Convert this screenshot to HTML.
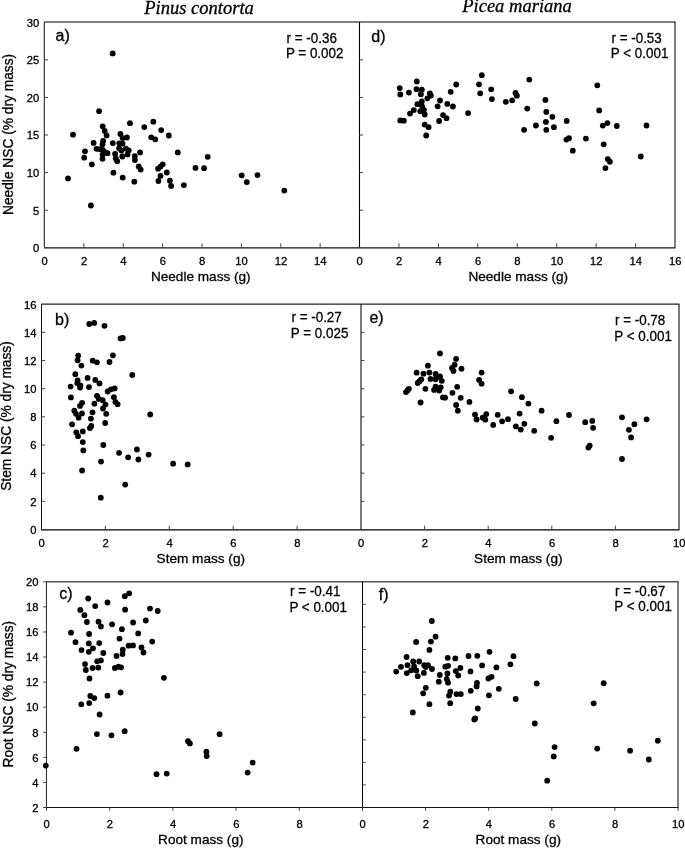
<!DOCTYPE html>
<html><head><meta charset="utf-8"><style>
html,body{margin:0;padding:0;background:#fff;}
svg{display:block;will-change:transform;font-family:"Liberation Sans",sans-serif;fill:#000;}
text{stroke:#000;stroke-width:0.3px;}
</style></head><body>
<svg width="685" height="848" viewBox="0 0 685 848">
<rect width="685" height="848" fill="#fff"/>
<text x="0" y="0" font-family="Liberation Serif" font-style="italic" font-size="18" transform="translate(144.2,13.5) scale(1.03,1)">Pinus contorta</text>
<text x="0" y="0" font-family="Liberation Serif" font-style="italic" font-size="18" transform="translate(462.2,12.4) scale(1.03,1)">Picea mariana</text>
<line x1="44.0" y1="22.0" x2="675.5" y2="22.0" stroke="#000" stroke-width="1.05"/>
<line x1="44.0" y1="247.85" x2="675.5" y2="247.85" stroke="#111" stroke-width="1.15"/>
<line x1="44.35" y1="22.0" x2="44.35" y2="247.5" stroke="#333" stroke-width="1.2"/>
<line x1="359.5" y1="22.0" x2="359.5" y2="247.5" stroke="#000" stroke-width="1.1"/>
<line x1="675.0" y1="22.0" x2="675.0" y2="247.5" stroke="#000" stroke-width="1.0"/>
<text x="39.3" y="252.15" font-size="11.2" text-anchor="end" >0</text>
<line x1="44.5" y1="210.24166666666667" x2="48.0" y2="210.24166666666667" stroke="#444" stroke-width="1.0"/>
<line x1="359.5" y1="210.24166666666667" x2="363.0" y2="210.24166666666667" stroke="#444" stroke-width="1.0"/>
<text x="39.3" y="214.54" font-size="11.2" text-anchor="end" >5</text>
<line x1="44.5" y1="172.63333333333333" x2="48.0" y2="172.63333333333333" stroke="#444" stroke-width="1.0"/>
<line x1="359.5" y1="172.63333333333333" x2="363.0" y2="172.63333333333333" stroke="#444" stroke-width="1.0"/>
<text x="39.3" y="176.93" font-size="11.2" text-anchor="end" >10</text>
<line x1="44.5" y1="135.02499999999998" x2="48.0" y2="135.02499999999998" stroke="#444" stroke-width="1.0"/>
<line x1="359.5" y1="135.02499999999998" x2="363.0" y2="135.02499999999998" stroke="#444" stroke-width="1.0"/>
<text x="39.3" y="139.32" font-size="11.2" text-anchor="end" >15</text>
<line x1="44.5" y1="97.41666666666666" x2="48.0" y2="97.41666666666666" stroke="#444" stroke-width="1.0"/>
<line x1="359.5" y1="97.41666666666666" x2="363.0" y2="97.41666666666666" stroke="#444" stroke-width="1.0"/>
<text x="39.3" y="101.72" font-size="11.2" text-anchor="end" >20</text>
<line x1="44.5" y1="59.80833333333334" x2="48.0" y2="59.80833333333334" stroke="#444" stroke-width="1.0"/>
<line x1="359.5" y1="59.80833333333334" x2="363.0" y2="59.80833333333334" stroke="#444" stroke-width="1.0"/>
<text x="39.3" y="64.11" font-size="11.2" text-anchor="end" >25</text>
<text x="39.3" y="26.5" font-size="11.2" text-anchor="end" >30</text>
<text x="44.7" y="265.0" font-size="11.2" text-anchor="middle" >0</text>
<line x1="83.875" y1="247.5" x2="83.875" y2="243.3" stroke="#444" stroke-width="1.0"/>
<text x="84.08" y="265.0" font-size="11.2" text-anchor="middle" >2</text>
<line x1="123.25" y1="247.5" x2="123.25" y2="243.3" stroke="#444" stroke-width="1.0"/>
<text x="123.45" y="265.0" font-size="11.2" text-anchor="middle" >4</text>
<line x1="162.625" y1="247.5" x2="162.625" y2="243.3" stroke="#444" stroke-width="1.0"/>
<text x="162.82" y="265.0" font-size="11.2" text-anchor="middle" >6</text>
<line x1="202.0" y1="247.5" x2="202.0" y2="243.3" stroke="#444" stroke-width="1.0"/>
<text x="202.2" y="265.0" font-size="11.2" text-anchor="middle" >8</text>
<line x1="241.375" y1="247.5" x2="241.375" y2="243.3" stroke="#444" stroke-width="1.0"/>
<text x="241.57" y="265.0" font-size="11.2" text-anchor="middle" >10</text>
<line x1="280.75" y1="247.5" x2="280.75" y2="243.3" stroke="#444" stroke-width="1.0"/>
<text x="280.95" y="265.0" font-size="11.2" text-anchor="middle" >12</text>
<line x1="320.125" y1="247.5" x2="320.125" y2="243.3" stroke="#444" stroke-width="1.0"/>
<text x="320.32" y="265.0" font-size="11.2" text-anchor="middle" >14</text>
<text x="200.8" y="281.3" font-size="13.6" text-anchor="middle" >Needle mass (g)</text>
<text x="359.7" y="265.0" font-size="11.2" text-anchor="middle" >0</text>
<line x1="398.9375" y1="247.5" x2="398.9375" y2="243.3" stroke="#444" stroke-width="1.0"/>
<text x="399.14" y="265.0" font-size="11.2" text-anchor="middle" >2</text>
<line x1="438.375" y1="247.5" x2="438.375" y2="243.3" stroke="#444" stroke-width="1.0"/>
<text x="438.57" y="265.0" font-size="11.2" text-anchor="middle" >4</text>
<line x1="477.8125" y1="247.5" x2="477.8125" y2="243.3" stroke="#444" stroke-width="1.0"/>
<text x="478.01" y="265.0" font-size="11.2" text-anchor="middle" >6</text>
<line x1="517.25" y1="247.5" x2="517.25" y2="243.3" stroke="#444" stroke-width="1.0"/>
<text x="517.45" y="265.0" font-size="11.2" text-anchor="middle" >8</text>
<line x1="556.6875" y1="247.5" x2="556.6875" y2="243.3" stroke="#444" stroke-width="1.0"/>
<text x="556.89" y="265.0" font-size="11.2" text-anchor="middle" >10</text>
<line x1="596.125" y1="247.5" x2="596.125" y2="243.3" stroke="#444" stroke-width="1.0"/>
<text x="596.33" y="265.0" font-size="11.2" text-anchor="middle" >12</text>
<line x1="635.5625" y1="247.5" x2="635.5625" y2="243.3" stroke="#444" stroke-width="1.0"/>
<text x="635.76" y="265.0" font-size="11.2" text-anchor="middle" >14</text>
<text x="675.2" y="265.0" font-size="11.2" text-anchor="middle" >16</text>
<text x="518.3" y="281.3" font-size="13.6" text-anchor="middle" >Needle mass (g)</text>
<text x="0" y="0" font-size="13.75" transform="translate(13.3,215.0) rotate(-90) scale(1,1.06)">Needle NSC (% dry mass)</text>
<text x="55.599999999999994" y="40.8" font-size="16" text-anchor="start" >a)</text>
<text x="371.3" y="41.6" font-size="16" text-anchor="start" >d)</text>
<text x="0" y="0" font-size="14.6" transform="translate(286.54,43.2) scale(0.92,1)">r = -0.36</text>
<text x="0" y="0" font-size="14.6" transform="translate(285.896,58.3) scale(0.92,1)">P = 0.002</text>
<text x="0" y="0" font-size="14.6" transform="translate(611.4399999999999,42.9) scale(0.92,1)">r = -0.53</text>
<text x="0" y="0" font-size="14.6" transform="translate(610.7959999999999,58.0) scale(0.92,1)">P &lt; 0.001</text>
<line x1="41.0" y1="304.15" x2="679.5" y2="304.15" stroke="#222" stroke-width="1.08"/>
<line x1="41.0" y1="529.85" x2="679.5" y2="529.85" stroke="#000" stroke-width="1.05"/>
<line x1="41.5" y1="304.2" x2="41.5" y2="529.5" stroke="#111" stroke-width="1.05"/>
<line x1="361.0" y1="304.2" x2="361.0" y2="529.5" stroke="#000" stroke-width="1.05"/>
<line x1="679.0" y1="304.2" x2="679.0" y2="529.5" stroke="#000" stroke-width="1.05"/>
<text x="36.4" y="533.8" font-size="11.2" text-anchor="end" >0</text>
<line x1="41.5" y1="501.3375" x2="45.0" y2="501.3375" stroke="#444" stroke-width="1.0"/>
<line x1="361.0" y1="501.3375" x2="364.5" y2="501.3375" stroke="#444" stroke-width="1.0"/>
<text x="36.4" y="505.64" font-size="11.2" text-anchor="end" >2</text>
<line x1="41.5" y1="473.175" x2="45.0" y2="473.175" stroke="#444" stroke-width="1.0"/>
<line x1="361.0" y1="473.175" x2="364.5" y2="473.175" stroke="#444" stroke-width="1.0"/>
<text x="36.4" y="477.48" font-size="11.2" text-anchor="end" >4</text>
<line x1="41.5" y1="445.0125" x2="45.0" y2="445.0125" stroke="#444" stroke-width="1.0"/>
<line x1="361.0" y1="445.0125" x2="364.5" y2="445.0125" stroke="#444" stroke-width="1.0"/>
<text x="36.4" y="449.31" font-size="11.2" text-anchor="end" >6</text>
<line x1="41.5" y1="416.85" x2="45.0" y2="416.85" stroke="#444" stroke-width="1.0"/>
<line x1="361.0" y1="416.85" x2="364.5" y2="416.85" stroke="#444" stroke-width="1.0"/>
<text x="36.4" y="421.15" font-size="11.2" text-anchor="end" >8</text>
<line x1="41.5" y1="388.6875" x2="45.0" y2="388.6875" stroke="#444" stroke-width="1.0"/>
<line x1="361.0" y1="388.6875" x2="364.5" y2="388.6875" stroke="#444" stroke-width="1.0"/>
<text x="36.4" y="392.99" font-size="11.2" text-anchor="end" >10</text>
<line x1="41.5" y1="360.525" x2="45.0" y2="360.525" stroke="#444" stroke-width="1.0"/>
<line x1="361.0" y1="360.525" x2="364.5" y2="360.525" stroke="#444" stroke-width="1.0"/>
<text x="36.4" y="364.82" font-size="11.2" text-anchor="end" >12</text>
<line x1="41.5" y1="332.36249999999995" x2="45.0" y2="332.36249999999995" stroke="#444" stroke-width="1.0"/>
<line x1="361.0" y1="332.36249999999995" x2="364.5" y2="332.36249999999995" stroke="#444" stroke-width="1.0"/>
<text x="36.4" y="336.66" font-size="11.2" text-anchor="end" >14</text>
<text x="36.4" y="308.5" font-size="11.2" text-anchor="end" >16</text>
<text x="41.7" y="546.6" font-size="11.2" text-anchor="middle" >0</text>
<line x1="105.4" y1="529.5" x2="105.4" y2="525.7" stroke="#444" stroke-width="1.0"/>
<text x="105.6" y="546.6" font-size="11.2" text-anchor="middle" >2</text>
<line x1="169.3" y1="529.5" x2="169.3" y2="525.7" stroke="#444" stroke-width="1.0"/>
<text x="169.5" y="546.6" font-size="11.2" text-anchor="middle" >4</text>
<line x1="233.2" y1="529.5" x2="233.2" y2="525.7" stroke="#444" stroke-width="1.0"/>
<text x="233.4" y="546.6" font-size="11.2" text-anchor="middle" >6</text>
<line x1="297.1" y1="529.5" x2="297.1" y2="525.7" stroke="#444" stroke-width="1.0"/>
<text x="297.3" y="546.6" font-size="11.2" text-anchor="middle" >8</text>
<text x="200.8" y="562.9" font-size="13.6" text-anchor="middle" >Stem mass (g)</text>
<text x="361.2" y="546.6" font-size="11.2" text-anchor="middle" >0</text>
<line x1="424.6" y1="529.5" x2="424.6" y2="525.7" stroke="#444" stroke-width="1.0"/>
<text x="424.8" y="546.6" font-size="11.2" text-anchor="middle" >2</text>
<line x1="488.2" y1="529.5" x2="488.2" y2="525.7" stroke="#444" stroke-width="1.0"/>
<text x="488.4" y="546.6" font-size="11.2" text-anchor="middle" >4</text>
<line x1="551.8" y1="529.5" x2="551.8" y2="525.7" stroke="#444" stroke-width="1.0"/>
<text x="552.0" y="546.6" font-size="11.2" text-anchor="middle" >6</text>
<line x1="615.4" y1="529.5" x2="615.4" y2="525.7" stroke="#444" stroke-width="1.0"/>
<text x="615.6" y="546.6" font-size="11.2" text-anchor="middle" >8</text>
<text x="679.2" y="546.6" font-size="11.2" text-anchor="middle" >10</text>
<text x="518.3" y="562.9" font-size="13.6" text-anchor="middle" >Stem mass (g)</text>
<text x="0" y="0" font-size="13.75" transform="translate(10.7,490.8) rotate(-90) scale(1,1.06)">Stem NSC (% dry mass)</text>
<text x="55.0" y="324.7" font-size="16" text-anchor="start" >b)</text>
<text x="369.40000000000003" y="323.0" font-size="16" text-anchor="start" >e)</text>
<text x="0" y="0" font-size="14.6" transform="translate(291.44,321.9) scale(0.92,1)">r = -0.27</text>
<text x="0" y="0" font-size="14.6" transform="translate(290.796,337.8) scale(0.92,1)">P = 0.025</text>
<text x="0" y="0" font-size="14.6" transform="translate(614.9399999999999,324.8) scale(0.92,1)">r = -0.78</text>
<text x="0" y="0" font-size="14.6" transform="translate(614.2959999999999,340.5) scale(0.92,1)">P &lt; 0.001</text>
<line x1="46.0" y1="581.84" x2="678.5" y2="581.84" stroke="#000" stroke-width="1.0"/>
<line x1="46.0" y1="807.5" x2="678.5" y2="807.5" stroke="#111" stroke-width="1.0"/>
<line x1="46.45" y1="581.8" x2="46.45" y2="807.5" stroke="#222" stroke-width="1.0"/>
<line x1="362.5" y1="581.8" x2="362.5" y2="807.5" stroke="#000" stroke-width="1.0"/>
<line x1="678.0" y1="581.8" x2="678.0" y2="807.5" stroke="#000" stroke-width="1.0"/>
<line x1="43.2" y1="807.5" x2="46.5" y2="807.5" stroke="#444" stroke-width="1.0"/>
<text x="38.4" y="811.8" font-size="11.2" text-anchor="end" >2</text>
<line x1="43.2" y1="782.4222222222222" x2="46.5" y2="782.4222222222222" stroke="#444" stroke-width="1.0"/>
<text x="38.4" y="786.72" font-size="11.2" text-anchor="end" >4</text>
<line x1="43.2" y1="757.3444444444444" x2="46.5" y2="757.3444444444444" stroke="#444" stroke-width="1.0"/>
<text x="38.4" y="761.64" font-size="11.2" text-anchor="end" >6</text>
<line x1="43.2" y1="732.2666666666667" x2="46.5" y2="732.2666666666667" stroke="#444" stroke-width="1.0"/>
<text x="38.4" y="736.57" font-size="11.2" text-anchor="end" >8</text>
<line x1="43.2" y1="707.1888888888889" x2="46.5" y2="707.1888888888889" stroke="#444" stroke-width="1.0"/>
<text x="38.4" y="711.49" font-size="11.2" text-anchor="end" >10</text>
<line x1="43.2" y1="682.1111111111111" x2="46.5" y2="682.1111111111111" stroke="#444" stroke-width="1.0"/>
<text x="38.4" y="686.41" font-size="11.2" text-anchor="end" >12</text>
<line x1="43.2" y1="657.0333333333333" x2="46.5" y2="657.0333333333333" stroke="#444" stroke-width="1.0"/>
<text x="38.4" y="661.33" font-size="11.2" text-anchor="end" >14</text>
<line x1="43.2" y1="631.9555555555555" x2="46.5" y2="631.9555555555555" stroke="#444" stroke-width="1.0"/>
<text x="38.4" y="636.26" font-size="11.2" text-anchor="end" >16</text>
<line x1="43.2" y1="606.8777777777777" x2="46.5" y2="606.8777777777777" stroke="#444" stroke-width="1.0"/>
<text x="38.4" y="611.18" font-size="11.2" text-anchor="end" >18</text>
<line x1="43.2" y1="581.8" x2="46.5" y2="581.8" stroke="#444" stroke-width="1.0"/>
<text x="38.4" y="586.1" font-size="11.2" text-anchor="end" >20</text>
<line x1="362.5" y1="784.93" x2="365.8" y2="784.93" stroke="#444" stroke-width="1.0"/>
<line x1="362.5" y1="762.36" x2="365.8" y2="762.36" stroke="#444" stroke-width="1.0"/>
<line x1="362.5" y1="739.79" x2="365.8" y2="739.79" stroke="#444" stroke-width="1.0"/>
<line x1="362.5" y1="717.22" x2="365.8" y2="717.22" stroke="#444" stroke-width="1.0"/>
<line x1="362.5" y1="694.65" x2="365.8" y2="694.65" stroke="#444" stroke-width="1.0"/>
<line x1="362.5" y1="672.0799999999999" x2="365.8" y2="672.0799999999999" stroke="#444" stroke-width="1.0"/>
<line x1="362.5" y1="649.51" x2="365.8" y2="649.51" stroke="#444" stroke-width="1.0"/>
<line x1="362.5" y1="626.9399999999999" x2="365.8" y2="626.9399999999999" stroke="#444" stroke-width="1.0"/>
<line x1="362.5" y1="604.3699999999999" x2="365.8" y2="604.3699999999999" stroke="#444" stroke-width="1.0"/>
<line x1="46.5" y1="807.5" x2="46.5" y2="810.8" stroke="#444" stroke-width="1.0"/>
<text x="46.7" y="828.0" font-size="11.2" text-anchor="middle" >0</text>
<line x1="109.7" y1="807.5" x2="109.7" y2="810.8" stroke="#444" stroke-width="1.0"/>
<text x="109.9" y="828.0" font-size="11.2" text-anchor="middle" >2</text>
<line x1="172.9" y1="807.5" x2="172.9" y2="810.8" stroke="#444" stroke-width="1.0"/>
<text x="173.1" y="828.0" font-size="11.2" text-anchor="middle" >4</text>
<line x1="236.1" y1="807.5" x2="236.1" y2="810.8" stroke="#444" stroke-width="1.0"/>
<text x="236.3" y="828.0" font-size="11.2" text-anchor="middle" >6</text>
<line x1="299.3" y1="807.5" x2="299.3" y2="810.8" stroke="#444" stroke-width="1.0"/>
<text x="299.5" y="828.0" font-size="11.2" text-anchor="middle" >8</text>
<line x1="362.5" y1="807.5" x2="362.5" y2="810.8" stroke="#444" stroke-width="1.0"/>
<text x="200.8" y="844.0" font-size="13.6" text-anchor="middle" >Root mass (g)</text>
<line x1="362.5" y1="807.5" x2="362.5" y2="810.8" stroke="#444" stroke-width="1.0"/>
<text x="362.7" y="828.0" font-size="11.2" text-anchor="middle" >0</text>
<line x1="425.6" y1="807.5" x2="425.6" y2="810.8" stroke="#444" stroke-width="1.0"/>
<text x="425.8" y="828.0" font-size="11.2" text-anchor="middle" >2</text>
<line x1="488.7" y1="807.5" x2="488.7" y2="810.8" stroke="#444" stroke-width="1.0"/>
<text x="488.9" y="828.0" font-size="11.2" text-anchor="middle" >4</text>
<line x1="551.8" y1="807.5" x2="551.8" y2="810.8" stroke="#444" stroke-width="1.0"/>
<text x="552.0" y="828.0" font-size="11.2" text-anchor="middle" >6</text>
<line x1="614.9" y1="807.5" x2="614.9" y2="810.8" stroke="#444" stroke-width="1.0"/>
<text x="615.1" y="828.0" font-size="11.2" text-anchor="middle" >8</text>
<line x1="678.0" y1="807.5" x2="678.0" y2="810.8" stroke="#444" stroke-width="1.0"/>
<text x="678.2" y="828.0" font-size="11.2" text-anchor="middle" >10</text>
<text x="518.3" y="844.0" font-size="13.6" text-anchor="middle" >Root mass (g)</text>
<text x="0" y="0" font-size="13.75" transform="translate(13.0,767.4) rotate(-90) scale(1,1.06)">Root NSC (% dry mass)</text>
<text x="59.3" y="598.9" font-size="16" text-anchor="start" >c)</text>
<text x="378.70000000000005" y="599.5" font-size="16" text-anchor="start" >f)</text>
<text x="0" y="0" font-size="14.6" transform="translate(290.04,595.9) scale(0.92,1)">r = -0.41</text>
<text x="0" y="0" font-size="14.6" transform="translate(289.396,611.5) scale(0.92,1)">P &lt; 0.001</text>
<text x="0" y="0" font-size="14.6" transform="translate(614.9399999999999,595.7) scale(0.92,1)">r = -0.67</text>
<text x="0" y="0" font-size="14.6" transform="translate(614.2959999999999,610.8) scale(0.92,1)">P &lt; 0.001</text>
<circle cx="99.1" cy="111.2" r="2.9"/>
<circle cx="73.0" cy="134.7" r="2.9"/>
<circle cx="102.7" cy="126.3" r="2.9"/>
<circle cx="104.7" cy="130.9" r="2.9"/>
<circle cx="106.6" cy="135.4" r="2.9"/>
<circle cx="93.6" cy="142.9" r="2.9"/>
<circle cx="103.1" cy="140.9" r="2.9"/>
<circle cx="102.5" cy="144.2" r="2.9"/>
<circle cx="96.5" cy="148.8" r="2.9"/>
<circle cx="100.0" cy="149.2" r="2.9"/>
<circle cx="102.7" cy="150.0" r="2.9"/>
<circle cx="104.5" cy="152.0" r="2.9"/>
<circle cx="107.5" cy="153.2" r="2.9"/>
<circle cx="85.0" cy="151.3" r="2.9"/>
<circle cx="84.2" cy="157.7" r="2.9"/>
<circle cx="102.5" cy="158.8" r="2.9"/>
<circle cx="112.8" cy="143.1" r="2.9"/>
<circle cx="115.1" cy="153.8" r="2.9"/>
<circle cx="115.7" cy="158.2" r="2.9"/>
<circle cx="117.2" cy="161.2" r="2.9"/>
<circle cx="120.4" cy="134.0" r="2.9"/>
<circle cx="122.6" cy="138.1" r="2.9"/>
<circle cx="126.9" cy="137.5" r="2.9"/>
<circle cx="130.0" cy="123.2" r="2.9"/>
<circle cx="119.3" cy="143.3" r="2.9"/>
<circle cx="122.6" cy="143.6" r="2.9"/>
<circle cx="119.1" cy="148.3" r="2.9"/>
<circle cx="121.4" cy="150.6" r="2.9"/>
<circle cx="125.8" cy="148.6" r="2.9"/>
<circle cx="128.7" cy="150.3" r="2.9"/>
<circle cx="127.5" cy="154.4" r="2.9"/>
<circle cx="122.3" cy="156.5" r="2.9"/>
<circle cx="144.3" cy="127.1" r="2.9"/>
<circle cx="140.1" cy="152.4" r="2.9"/>
<circle cx="134.8" cy="156.1" r="2.9"/>
<circle cx="134.9" cy="160.0" r="2.9"/>
<circle cx="153.3" cy="121.7" r="2.9"/>
<circle cx="161.2" cy="130.1" r="2.9"/>
<circle cx="168.8" cy="135.5" r="2.9"/>
<circle cx="151.2" cy="137.3" r="2.9"/>
<circle cx="155.3" cy="139.3" r="2.9"/>
<circle cx="177.8" cy="152.4" r="2.9"/>
<circle cx="207.7" cy="156.8" r="2.9"/>
<circle cx="91.8" cy="164.3" r="2.9"/>
<circle cx="113.4" cy="172.7" r="2.9"/>
<circle cx="122.7" cy="177.6" r="2.9"/>
<circle cx="68.0" cy="178.4" r="2.9"/>
<circle cx="90.9" cy="205.5" r="2.9"/>
<circle cx="138.7" cy="166.4" r="2.9"/>
<circle cx="140.7" cy="169.6" r="2.9"/>
<circle cx="134.3" cy="181.7" r="2.9"/>
<circle cx="162.7" cy="164.3" r="2.9"/>
<circle cx="160.5" cy="166.6" r="2.9"/>
<circle cx="158.1" cy="168.7" r="2.9"/>
<circle cx="166.8" cy="172.5" r="2.9"/>
<circle cx="160.5" cy="175.9" r="2.9"/>
<circle cx="158.4" cy="181.0" r="2.9"/>
<circle cx="169.9" cy="180.7" r="2.9"/>
<circle cx="171.1" cy="186.0" r="2.9"/>
<circle cx="183.9" cy="185.1" r="2.9"/>
<circle cx="195.5" cy="167.9" r="2.9"/>
<circle cx="204.1" cy="168.2" r="2.9"/>
<circle cx="241.7" cy="175.3" r="2.9"/>
<circle cx="246.8" cy="182.1" r="2.9"/>
<circle cx="257.5" cy="175.1" r="2.9"/>
<circle cx="284.3" cy="190.6" r="2.9"/>
<circle cx="112.7" cy="53.4" r="2.9"/>
<circle cx="102.6" cy="154.6" r="2.9"/>
<circle cx="89.3" cy="324.0" r="2.9"/>
<circle cx="94.2" cy="322.9" r="2.9"/>
<circle cx="104.5" cy="325.8" r="2.9"/>
<circle cx="120.6" cy="338.4" r="2.9"/>
<circle cx="122.8" cy="337.9" r="2.9"/>
<circle cx="78.2" cy="355.6" r="2.9"/>
<circle cx="77.6" cy="360.3" r="2.9"/>
<circle cx="81.4" cy="365.6" r="2.9"/>
<circle cx="92.7" cy="360.7" r="2.9"/>
<circle cx="96.9" cy="362.3" r="2.9"/>
<circle cx="109.5" cy="362.0" r="2.9"/>
<circle cx="112.9" cy="355.3" r="2.9"/>
<circle cx="75.3" cy="374.2" r="2.9"/>
<circle cx="132.3" cy="374.9" r="2.9"/>
<circle cx="77.6" cy="380.5" r="2.9"/>
<circle cx="77.3" cy="383.1" r="2.9"/>
<circle cx="80.4" cy="385.3" r="2.9"/>
<circle cx="80.0" cy="387.5" r="2.9"/>
<circle cx="70.6" cy="386.6" r="2.9"/>
<circle cx="87.6" cy="377.9" r="2.9"/>
<circle cx="95.3" cy="379.9" r="2.9"/>
<circle cx="99.5" cy="383.4" r="2.9"/>
<circle cx="89.0" cy="387.1" r="2.9"/>
<circle cx="107.7" cy="391.5" r="2.9"/>
<circle cx="111.0" cy="389.3" r="2.9"/>
<circle cx="114.6" cy="388.4" r="2.9"/>
<circle cx="70.9" cy="397.4" r="2.9"/>
<circle cx="97.0" cy="395.8" r="2.9"/>
<circle cx="98.8" cy="398.9" r="2.9"/>
<circle cx="102.7" cy="400.2" r="2.9"/>
<circle cx="105.4" cy="404.6" r="2.9"/>
<circle cx="103.0" cy="408.5" r="2.9"/>
<circle cx="106.2" cy="413.8" r="2.9"/>
<circle cx="113.9" cy="397.2" r="2.9"/>
<circle cx="115.4" cy="402.0" r="2.9"/>
<circle cx="117.6" cy="404.2" r="2.9"/>
<circle cx="94.4" cy="403.7" r="2.9"/>
<circle cx="82.1" cy="402.8" r="2.9"/>
<circle cx="80.0" cy="405.9" r="2.9"/>
<circle cx="74.3" cy="410.7" r="2.9"/>
<circle cx="76.0" cy="413.8" r="2.9"/>
<circle cx="82.0" cy="413.4" r="2.9"/>
<circle cx="78.6" cy="417.7" r="2.9"/>
<circle cx="92.5" cy="412.3" r="2.9"/>
<circle cx="90.9" cy="418.6" r="2.9"/>
<circle cx="105.2" cy="423.0" r="2.9"/>
<circle cx="72.1" cy="424.3" r="2.9"/>
<circle cx="91.3" cy="426.0" r="2.9"/>
<circle cx="89.9" cy="428.1" r="2.9"/>
<circle cx="76.3" cy="432.3" r="2.9"/>
<circle cx="82.8" cy="431.4" r="2.9"/>
<circle cx="78.0" cy="436.2" r="2.9"/>
<circle cx="82.8" cy="442.1" r="2.9"/>
<circle cx="83.3" cy="450.4" r="2.9"/>
<circle cx="103.3" cy="445.0" r="2.9"/>
<circle cx="119.1" cy="452.8" r="2.9"/>
<circle cx="101.0" cy="461.6" r="2.9"/>
<circle cx="82.1" cy="470.5" r="2.9"/>
<circle cx="150.2" cy="414.5" r="2.9"/>
<circle cx="128.1" cy="457.3" r="2.9"/>
<circle cx="136.9" cy="449.5" r="2.9"/>
<circle cx="138.4" cy="459.5" r="2.9"/>
<circle cx="148.6" cy="454.6" r="2.9"/>
<circle cx="173.1" cy="463.7" r="2.9"/>
<circle cx="187.7" cy="464.4" r="2.9"/>
<circle cx="125.2" cy="484.6" r="2.9"/>
<circle cx="100.8" cy="497.7" r="2.9"/>
<circle cx="88.2" cy="598.5" r="2.9"/>
<circle cx="95.2" cy="606.1" r="2.9"/>
<circle cx="107.5" cy="602.5" r="2.9"/>
<circle cx="80.3" cy="609.9" r="2.9"/>
<circle cx="84.4" cy="615.2" r="2.9"/>
<circle cx="86.9" cy="622.0" r="2.9"/>
<circle cx="98.5" cy="621.7" r="2.9"/>
<circle cx="100.9" cy="626.5" r="2.9"/>
<circle cx="112.1" cy="624.3" r="2.9"/>
<circle cx="121.9" cy="629.2" r="2.9"/>
<circle cx="71.0" cy="632.7" r="2.9"/>
<circle cx="89.1" cy="634.0" r="2.9"/>
<circle cx="75.5" cy="642.2" r="2.9"/>
<circle cx="88.8" cy="643.4" r="2.9"/>
<circle cx="99.2" cy="643.1" r="2.9"/>
<circle cx="119.5" cy="638.6" r="2.9"/>
<circle cx="93.0" cy="648.3" r="2.9"/>
<circle cx="129.2" cy="593.3" r="2.9"/>
<circle cx="124.8" cy="596.2" r="2.9"/>
<circle cx="125.1" cy="609.7" r="2.9"/>
<circle cx="150.0" cy="608.6" r="2.9"/>
<circle cx="157.7" cy="611.0" r="2.9"/>
<circle cx="145.8" cy="620.5" r="2.9"/>
<circle cx="133.1" cy="622.5" r="2.9"/>
<circle cx="138.2" cy="633.4" r="2.9"/>
<circle cx="152.2" cy="641.6" r="2.9"/>
<circle cx="81.5" cy="650.1" r="2.9"/>
<circle cx="88.8" cy="651.8" r="2.9"/>
<circle cx="103.3" cy="653.0" r="2.9"/>
<circle cx="97.2" cy="661.3" r="2.9"/>
<circle cx="100.9" cy="660.4" r="2.9"/>
<circle cx="85.0" cy="664.1" r="2.9"/>
<circle cx="85.8" cy="670.0" r="2.9"/>
<circle cx="92.6" cy="668.0" r="2.9"/>
<circle cx="98.3" cy="667.6" r="2.9"/>
<circle cx="116.5" cy="656.0" r="2.9"/>
<circle cx="122.8" cy="649.6" r="2.9"/>
<circle cx="122.5" cy="654.0" r="2.9"/>
<circle cx="114.9" cy="668.0" r="2.9"/>
<circle cx="118.4" cy="666.7" r="2.9"/>
<circle cx="121.1" cy="667.3" r="2.9"/>
<circle cx="89.5" cy="678.5" r="2.9"/>
<circle cx="120.6" cy="692.5" r="2.9"/>
<circle cx="107.4" cy="695.7" r="2.9"/>
<circle cx="90.3" cy="696.0" r="2.9"/>
<circle cx="94.3" cy="698.1" r="2.9"/>
<circle cx="128.6" cy="645.7" r="2.9"/>
<circle cx="133.0" cy="645.4" r="2.9"/>
<circle cx="141.5" cy="647.4" r="2.9"/>
<circle cx="143.5" cy="652.5" r="2.9"/>
<circle cx="163.9" cy="677.8" r="2.9"/>
<circle cx="81.3" cy="704.3" r="2.9"/>
<circle cx="89.2" cy="703.1" r="2.9"/>
<circle cx="99.6" cy="714.5" r="2.9"/>
<circle cx="96.9" cy="734.1" r="2.9"/>
<circle cx="111.5" cy="735.3" r="2.9"/>
<circle cx="124.7" cy="731.2" r="2.9"/>
<circle cx="76.5" cy="748.8" r="2.9"/>
<circle cx="45.8" cy="765.6" r="2.9"/>
<circle cx="219.6" cy="734.2" r="2.9"/>
<circle cx="188.0" cy="741.2" r="2.9"/>
<circle cx="189.9" cy="743.4" r="2.9"/>
<circle cx="206.4" cy="751.7" r="2.9"/>
<circle cx="206.7" cy="756.1" r="2.9"/>
<circle cx="252.7" cy="762.6" r="2.9"/>
<circle cx="247.6" cy="772.6" r="2.9"/>
<circle cx="156.5" cy="774.2" r="2.9"/>
<circle cx="166.7" cy="773.6" r="2.9"/>
<circle cx="416.8" cy="81.5" r="2.9"/>
<circle cx="399.7" cy="88.1" r="2.9"/>
<circle cx="400.3" cy="94.4" r="2.9"/>
<circle cx="408.9" cy="92.6" r="2.9"/>
<circle cx="416.5" cy="89.2" r="2.9"/>
<circle cx="421.8" cy="89.7" r="2.9"/>
<circle cx="420.9" cy="94.2" r="2.9"/>
<circle cx="429.8" cy="93.3" r="2.9"/>
<circle cx="430.8" cy="95.5" r="2.9"/>
<circle cx="427.4" cy="98.3" r="2.9"/>
<circle cx="421.8" cy="101.5" r="2.9"/>
<circle cx="417.4" cy="104.2" r="2.9"/>
<circle cx="422.1" cy="106.3" r="2.9"/>
<circle cx="423.9" cy="109.8" r="2.9"/>
<circle cx="420.3" cy="111.3" r="2.9"/>
<circle cx="424.7" cy="114.5" r="2.9"/>
<circle cx="413.8" cy="110.1" r="2.9"/>
<circle cx="410.0" cy="113.6" r="2.9"/>
<circle cx="400.3" cy="120.4" r="2.9"/>
<circle cx="403.8" cy="120.7" r="2.9"/>
<circle cx="456.2" cy="84.5" r="2.9"/>
<circle cx="450.7" cy="91.8" r="2.9"/>
<circle cx="440.0" cy="100.5" r="2.9"/>
<circle cx="437.6" cy="106.3" r="2.9"/>
<circle cx="447.3" cy="103.9" r="2.9"/>
<circle cx="452.9" cy="106.5" r="2.9"/>
<circle cx="468.1" cy="113.1" r="2.9"/>
<circle cx="443.1" cy="115.1" r="2.9"/>
<circle cx="446.5" cy="118.2" r="2.9"/>
<circle cx="439.1" cy="121.0" r="2.9"/>
<circle cx="424.7" cy="124.6" r="2.9"/>
<circle cx="428.6" cy="127.2" r="2.9"/>
<circle cx="426.2" cy="135.5" r="2.9"/>
<circle cx="481.8" cy="75.2" r="2.9"/>
<circle cx="479.0" cy="84.3" r="2.9"/>
<circle cx="480.2" cy="93.3" r="2.9"/>
<circle cx="491.2" cy="89.3" r="2.9"/>
<circle cx="491.9" cy="99.1" r="2.9"/>
<circle cx="505.8" cy="101.8" r="2.9"/>
<circle cx="512.2" cy="100.3" r="2.9"/>
<circle cx="515.5" cy="93.0" r="2.9"/>
<circle cx="516.9" cy="95.7" r="2.9"/>
<circle cx="529.3" cy="79.6" r="2.9"/>
<circle cx="527.2" cy="108.6" r="2.9"/>
<circle cx="535.9" cy="125.5" r="2.9"/>
<circle cx="524.1" cy="129.8" r="2.9"/>
<circle cx="545.4" cy="99.9" r="2.9"/>
<circle cx="546.3" cy="111.9" r="2.9"/>
<circle cx="552.4" cy="116.8" r="2.9"/>
<circle cx="545.9" cy="121.9" r="2.9"/>
<circle cx="546.3" cy="129.8" r="2.9"/>
<circle cx="553.9" cy="127.2" r="2.9"/>
<circle cx="566.7" cy="120.9" r="2.9"/>
<circle cx="566.4" cy="139.6" r="2.9"/>
<circle cx="569.0" cy="138.2" r="2.9"/>
<circle cx="585.9" cy="138.6" r="2.9"/>
<circle cx="572.8" cy="150.7" r="2.9"/>
<circle cx="597.3" cy="85.3" r="2.9"/>
<circle cx="599.2" cy="110.4" r="2.9"/>
<circle cx="602.8" cy="125.6" r="2.9"/>
<circle cx="607.4" cy="123.1" r="2.9"/>
<circle cx="616.8" cy="126.0" r="2.9"/>
<circle cx="646.5" cy="125.5" r="2.9"/>
<circle cx="603.7" cy="144.3" r="2.9"/>
<circle cx="640.8" cy="156.5" r="2.9"/>
<circle cx="607.8" cy="159.1" r="2.9"/>
<circle cx="609.9" cy="161.7" r="2.9"/>
<circle cx="605.4" cy="168.1" r="2.9"/>
<circle cx="440.0" cy="353.4" r="2.9"/>
<circle cx="427.9" cy="365.7" r="2.9"/>
<circle cx="416.6" cy="372.7" r="2.9"/>
<circle cx="423.5" cy="373.7" r="2.9"/>
<circle cx="429.4" cy="372.6" r="2.9"/>
<circle cx="435.6" cy="373.8" r="2.9"/>
<circle cx="440.0" cy="376.4" r="2.9"/>
<circle cx="441.8" cy="380.8" r="2.9"/>
<circle cx="436.3" cy="377.5" r="2.9"/>
<circle cx="430.5" cy="378.9" r="2.9"/>
<circle cx="435.6" cy="379.3" r="2.9"/>
<circle cx="421.3" cy="379.3" r="2.9"/>
<circle cx="417.7" cy="383.0" r="2.9"/>
<circle cx="425.4" cy="388.8" r="2.9"/>
<circle cx="435.6" cy="386.6" r="2.9"/>
<circle cx="440.7" cy="387.3" r="2.9"/>
<circle cx="434.1" cy="389.9" r="2.9"/>
<circle cx="439.2" cy="390.6" r="2.9"/>
<circle cx="408.9" cy="388.8" r="2.9"/>
<circle cx="406.0" cy="392.1" r="2.9"/>
<circle cx="456.1" cy="358.9" r="2.9"/>
<circle cx="454.6" cy="364.7" r="2.9"/>
<circle cx="452.0" cy="368.0" r="2.9"/>
<circle cx="453.5" cy="370.9" r="2.9"/>
<circle cx="461.5" cy="368.7" r="2.9"/>
<circle cx="481.6" cy="372.6" r="2.9"/>
<circle cx="479.1" cy="379.9" r="2.9"/>
<circle cx="481.6" cy="383.7" r="2.9"/>
<circle cx="457.2" cy="386.8" r="2.9"/>
<circle cx="452.4" cy="392.8" r="2.9"/>
<circle cx="442.9" cy="397.3" r="2.9"/>
<circle cx="445.1" cy="397.7" r="2.9"/>
<circle cx="420.6" cy="402.5" r="2.9"/>
<circle cx="456.1" cy="405.0" r="2.9"/>
<circle cx="457.8" cy="410.7" r="2.9"/>
<circle cx="460.7" cy="397.8" r="2.9"/>
<circle cx="469.4" cy="401.9" r="2.9"/>
<circle cx="475.0" cy="414.6" r="2.9"/>
<circle cx="476.6" cy="419.5" r="2.9"/>
<circle cx="482.7" cy="417.7" r="2.9"/>
<circle cx="486.3" cy="414.1" r="2.9"/>
<circle cx="485.3" cy="419.7" r="2.9"/>
<circle cx="493.2" cy="424.9" r="2.9"/>
<circle cx="497.7" cy="414.8" r="2.9"/>
<circle cx="502.1" cy="421.3" r="2.9"/>
<circle cx="508.0" cy="419.2" r="2.9"/>
<circle cx="511.1" cy="391.3" r="2.9"/>
<circle cx="515.9" cy="426.4" r="2.9"/>
<circle cx="519.6" cy="413.6" r="2.9"/>
<circle cx="521.9" cy="397.2" r="2.9"/>
<circle cx="528.4" cy="403.6" r="2.9"/>
<circle cx="541.6" cy="410.7" r="2.9"/>
<circle cx="520.8" cy="429.6" r="2.9"/>
<circle cx="524.3" cy="423.8" r="2.9"/>
<circle cx="534.2" cy="430.8" r="2.9"/>
<circle cx="556.4" cy="421.2" r="2.9"/>
<circle cx="569.0" cy="415.0" r="2.9"/>
<circle cx="551.1" cy="437.8" r="2.9"/>
<circle cx="585.2" cy="422.2" r="2.9"/>
<circle cx="592.3" cy="420.9" r="2.9"/>
<circle cx="593.1" cy="427.8" r="2.9"/>
<circle cx="589.7" cy="445.6" r="2.9"/>
<circle cx="588.4" cy="447.6" r="2.9"/>
<circle cx="622.0" cy="417.3" r="2.9"/>
<circle cx="634.4" cy="424.2" r="2.9"/>
<circle cx="628.9" cy="429.8" r="2.9"/>
<circle cx="631.1" cy="437.4" r="2.9"/>
<circle cx="646.6" cy="419.3" r="2.9"/>
<circle cx="622.0" cy="459.0" r="2.9"/>
<circle cx="419.5" cy="381.2" r="2.9"/>
<circle cx="407.5" cy="390.5" r="2.9"/>
<circle cx="431.8" cy="621.0" r="2.9"/>
<circle cx="435.6" cy="636.7" r="2.9"/>
<circle cx="430.9" cy="641.6" r="2.9"/>
<circle cx="416.1" cy="642.0" r="2.9"/>
<circle cx="429.4" cy="649.9" r="2.9"/>
<circle cx="406.6" cy="657.0" r="2.9"/>
<circle cx="413.2" cy="661.4" r="2.9"/>
<circle cx="419.2" cy="661.5" r="2.9"/>
<circle cx="407.5" cy="665.2" r="2.9"/>
<circle cx="401.0" cy="666.8" r="2.9"/>
<circle cx="396.2" cy="671.6" r="2.9"/>
<circle cx="414.1" cy="666.3" r="2.9"/>
<circle cx="411.2" cy="670.3" r="2.9"/>
<circle cx="416.3" cy="670.5" r="2.9"/>
<circle cx="406.8" cy="673.1" r="2.9"/>
<circle cx="417.7" cy="676.2" r="2.9"/>
<circle cx="424.3" cy="665.2" r="2.9"/>
<circle cx="428.0" cy="665.2" r="2.9"/>
<circle cx="425.8" cy="667.0" r="2.9"/>
<circle cx="432.0" cy="669.0" r="2.9"/>
<circle cx="423.9" cy="672.9" r="2.9"/>
<circle cx="439.8" cy="675.0" r="2.9"/>
<circle cx="438.8" cy="681.7" r="2.9"/>
<circle cx="425.8" cy="687.8" r="2.9"/>
<circle cx="423.2" cy="693.3" r="2.9"/>
<circle cx="429.4" cy="704.2" r="2.9"/>
<circle cx="447.7" cy="657.8" r="2.9"/>
<circle cx="455.3" cy="658.4" r="2.9"/>
<circle cx="468.5" cy="656.0" r="2.9"/>
<circle cx="477.3" cy="655.8" r="2.9"/>
<circle cx="489.5" cy="651.8" r="2.9"/>
<circle cx="445.3" cy="666.7" r="2.9"/>
<circle cx="448.1" cy="665.8" r="2.9"/>
<circle cx="460.4" cy="667.9" r="2.9"/>
<circle cx="455.8" cy="671.1" r="2.9"/>
<circle cx="458.2" cy="675.5" r="2.9"/>
<circle cx="470.5" cy="671.4" r="2.9"/>
<circle cx="482.1" cy="665.4" r="2.9"/>
<circle cx="447.4" cy="673.5" r="2.9"/>
<circle cx="446.8" cy="679.0" r="2.9"/>
<circle cx="448.0" cy="682.7" r="2.9"/>
<circle cx="488.4" cy="678.5" r="2.9"/>
<circle cx="491.5" cy="676.8" r="2.9"/>
<circle cx="477.0" cy="682.9" r="2.9"/>
<circle cx="476.6" cy="686.4" r="2.9"/>
<circle cx="470.7" cy="690.8" r="2.9"/>
<circle cx="450.3" cy="691.7" r="2.9"/>
<circle cx="449.0" cy="695.6" r="2.9"/>
<circle cx="456.5" cy="694.1" r="2.9"/>
<circle cx="460.8" cy="694.1" r="2.9"/>
<circle cx="488.9" cy="695.3" r="2.9"/>
<circle cx="513.5" cy="656.2" r="2.9"/>
<circle cx="510.4" cy="664.3" r="2.9"/>
<circle cx="496.4" cy="667.4" r="2.9"/>
<circle cx="498.8" cy="688.8" r="2.9"/>
<circle cx="536.7" cy="683.5" r="2.9"/>
<circle cx="515.7" cy="699.0" r="2.9"/>
<circle cx="412.8" cy="712.5" r="2.9"/>
<circle cx="450.2" cy="703.2" r="2.9"/>
<circle cx="477.8" cy="708.5" r="2.9"/>
<circle cx="474.3" cy="719.5" r="2.9"/>
<circle cx="475.2" cy="718.4" r="2.9"/>
<circle cx="534.8" cy="723.5" r="2.9"/>
<circle cx="554.6" cy="747.1" r="2.9"/>
<circle cx="553.7" cy="756.4" r="2.9"/>
<circle cx="547.2" cy="780.7" r="2.9"/>
<circle cx="603.7" cy="683.2" r="2.9"/>
<circle cx="593.7" cy="703.3" r="2.9"/>
<circle cx="597.2" cy="748.6" r="2.9"/>
<circle cx="630.1" cy="750.7" r="2.9"/>
<circle cx="648.8" cy="759.5" r="2.9"/>
<circle cx="657.8" cy="740.7" r="2.9"/>
</svg></body></html>
